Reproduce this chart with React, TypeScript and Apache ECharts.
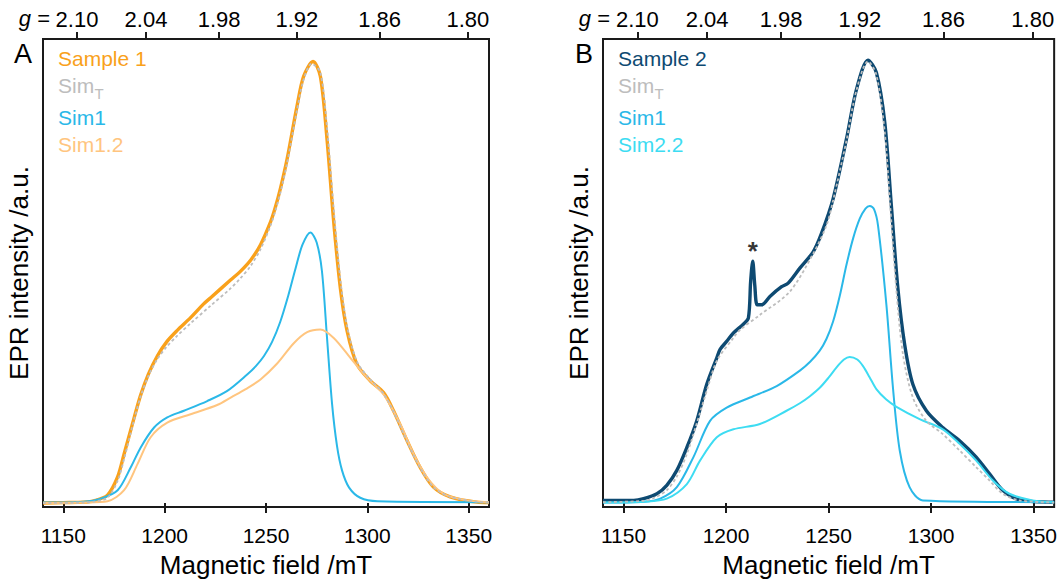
import React, { useEffect, useRef } from "react";
import * as echarts from "echarts";

// Microwave frequency (Q-band) used for the g-value axis: B[mT] = 71.4477 * nu[GHz] / g
const MW_FREQ_GHZ = 34.0;
const G_FIELD_CONST = 71.4477 * MW_FREQ_GHZ;

const fieldTicks = [1150, 1200, 1250, 1300, 1350];
const gTicks = [2.1, 2.04, 1.98, 1.92, 1.86, 1.8];

// Panel A
const sample1 = [[1140,0],[1150,0.001],[1160,0.002],[1165,0.005],[1171.8,0.018],[1176.8,0.059],[1180,0.111],[1185,0.194],[1188.2,0.245],[1192,0.292],[1196.4,0.333],[1201,0.365],[1206,0.39],[1212.8,0.42],[1219,0.45],[1222.7,0.465],[1232.5,0.505],[1237,0.523],[1242.4,0.55],[1247.3,0.585],[1252.2,0.636],[1254.5,0.668],[1257.1,0.712],[1260.4,0.779],[1265.3,0.899],[1268.6,0.967],[1273.2,1.0],[1276.8,0.967],[1280.1,0.824],[1283.4,0.637],[1286.7,0.486],[1290,0.39],[1294.9,0.314],[1301.4,0.277],[1308,0.25],[1312.9,0.209],[1319.5,0.142],[1326,0.081],[1332.6,0.036],[1340.8,0.014],[1353.9,0.002],[1360,0.001]];
const simT1 = [[1140,0],[1160,0.001],[1165,0.003],[1171.8,0.012],[1176.8,0.05],[1180,0.1],[1185,0.19],[1188.2,0.242],[1192,0.288],[1196.4,0.326],[1201,0.354],[1206,0.378],[1212.8,0.407],[1222.7,0.447],[1232.5,0.486],[1237,0.507],[1242.4,0.537],[1247.3,0.575],[1252.2,0.628],[1254.5,0.66],[1257.1,0.703],[1260.4,0.77],[1265.3,0.89],[1268.6,0.96],[1272.5,0.995],[1276.8,0.975],[1280.1,0.85],[1283.4,0.665],[1286.7,0.505],[1290,0.4],[1294.9,0.32],[1301.4,0.28],[1308,0.248],[1312.9,0.207],[1319.5,0.14],[1326,0.08],[1332.6,0.036],[1340.8,0.014],[1353.9,0.003],[1360,0.001]];
const sim1A = [[1140,0.001],[1160,0.003],[1168.5,0.01],[1176.8,0.029],[1183.3,0.081],[1188.2,0.126],[1194.8,0.171],[1201.3,0.194],[1209.5,0.209],[1221,0.231],[1230.9,0.254],[1240.7,0.291],[1245,0.31],[1249,0.333],[1253,0.365],[1257,0.41],[1261,0.47],[1264.5,0.53],[1268,0.585],[1271.9,0.613],[1275,0.59],[1277.6,0.525],[1280.1,0.374],[1282.6,0.224],[1285,0.13],[1287.5,0.074],[1291,0.035],[1296.5,0.012],[1305,0.004],[1360,0.002]];
const sim12 = [[1140,0],[1160,0.001],[1171.8,0.004],[1180,0.029],[1186.6,0.088],[1193.1,0.149],[1201.3,0.182],[1212.8,0.201],[1225.9,0.222],[1233,0.24],[1240,0.258],[1247.3,0.28],[1255.5,0.316],[1263.7,0.362],[1270.3,0.387],[1276.8,0.393],[1283.4,0.374],[1291.6,0.329],[1299.8,0.284],[1308,0.246],[1316.2,0.179],[1322.8,0.111],[1329.3,0.059],[1337.5,0.021],[1349,0.006],[1360,0.002]];

// Panel B
const sample2 = [[1140,0.006],[1155,0.006],[1159.8,0.01],[1166.3,0.021],[1171.1,0.04],[1176,0.074],[1180.9,0.126],[1185.7,0.186],[1190.6,0.269],[1195.5,0.329],[1197.1,0.348],[1200.3,0.366],[1203.6,0.385],[1208.4,0.405],[1210.9,0.419],[1212,0.502],[1213,0.548],[1214,0.494],[1215.2,0.449],[1217.4,0.449],[1221.4,0.468],[1227.1,0.49],[1230.3,0.498],[1236,0.532],[1242.5,0.569],[1246.5,0.61],[1252.2,0.689],[1258.7,0.824],[1263.6,0.937],[1269.2,1.003],[1273.3,0.975],[1277.4,0.862],[1280.6,0.674],[1283.8,0.486],[1287.1,0.359],[1291.1,0.269],[1297.7,0.209],[1305.7,0.171],[1313.9,0.141],[1322,0.104],[1328.5,0.066],[1334.9,0.029],[1343.1,0.007],[1360,0.002]];
const simT2 = [[1140,0.002],[1160,0.005],[1165,0.012],[1171.1,0.029],[1176,0.06],[1180.9,0.111],[1185.7,0.18],[1190.6,0.254],[1195.5,0.322],[1203.6,0.374],[1206.8,0.392],[1216.5,0.426],[1231.1,0.479],[1242.5,0.565],[1249,0.629],[1252.2,0.685],[1258.7,0.82],[1263.6,0.935],[1269.2,1.0],[1273.3,0.97],[1277.4,0.84],[1279.8,0.689],[1283.1,0.48],[1286.3,0.336],[1291.1,0.239],[1297.7,0.186],[1305.7,0.156],[1313.9,0.119],[1322,0.081],[1328.5,0.051],[1334.9,0.021],[1343.1,0.006],[1360,0.001]];
const sim1B = [[1140,0.001],[1160,0.003],[1167.9,0.01],[1176,0.036],[1184.1,0.104],[1192.2,0.186],[1200.3,0.216],[1211.7,0.239],[1224.7,0.265],[1236,0.3],[1241,0.32],[1245.7,0.345],[1249,0.372],[1252.2,0.411],[1255.5,0.47],[1258.7,0.539],[1262,0.6],[1265.2,0.644],[1268,0.667],[1270.1,0.673],[1272.2,0.665],[1274.1,0.629],[1278.2,0.449],[1281.4,0.261],[1284.7,0.119],[1289.5,0.036],[1296,0.006],[1360,0.002]];
const sim22 = [[1140,0.001],[1160,0.003],[1171.1,0.01],[1180.9,0.043],[1187.3,0.096],[1195.5,0.149],[1203.6,0.167],[1216.5,0.179],[1229.5,0.209],[1236,0.226],[1240.9,0.242],[1245.7,0.261],[1250,0.284],[1254,0.308],[1257.5,0.325],[1260.3,0.331],[1264,0.325],[1266.8,0.31],[1270,0.285],[1273.3,0.258],[1278,0.235],[1283.1,0.218],[1294.4,0.19],[1305.7,0.167],[1313.9,0.134],[1322,0.096],[1330.1,0.051],[1338.2,0.021],[1349.5,0.006],[1360,0.002]];
const asterisk = [[1213, 0.57]];

const legendA = ["Sample 1", "Sim", "Sim1", "Sim1.2"];
const legendB = ["Sample 2", "Sim", "Sim1", "Sim2.2"];

const C_S1 = "#F9A11B";
const C_S2 = "#0E4A72";
const C_T = "#BDBDBD";
const C_SIM1 = "#2AB8E8";
const C_SIM12 = "#FFC57F";
const C_SIM22 = "#3DDCF2";
const FONT = "'Liberation Sans', Arial, sans-serif";
const AXIS_C = "#1a1a1a";

export default function App() {
  const ref = useRef<HTMLDivElement>(null);
  useEffect(() => {
    if (!ref.current) return;
    const chart = echarts.init(ref.current, null, { renderer: "svg" });
    const gFields = gTicks.map((g) => G_FIELD_CONST / g);
    const grids = [
      { left: 43, top: 39, width: 446, height: 471 },
      { left: 603, top: 39, width: 454, height: 471 },
    ];
    const xAxes: any[] = [];
    const yAxes: any[] = [];
    grids.forEach((_, i) => {
      xAxes.push({
        type: "value", gridIndex: i, min: 1140, max: 1360, position: "bottom",
        axisLine: { show: false },
        axisTick: { show: true, customValues: fieldTicks, length: 10, lineStyle: { color: AXIS_C, width: 2 } },
        axisLabel: { customValues: fieldTicks, fontSize: 21, color: "#000", margin: 18, fontFamily: FONT, formatter: (v: number) => String(Math.round(v)) },
        splitLine: { show: false },
        name: "Magnetic field /mT", nameLocation: "middle", nameGap: 45,
        nameTextStyle: { fontSize: 26, color: "#000", fontFamily: FONT },
      });
      xAxes.push({
        type: "value", gridIndex: i, min: 1140, max: 1360, position: "top",
        axisLine: { show: false },
        axisTick: { show: true, customValues: gFields, length: 7, lineStyle: { color: AXIS_C, width: 2 } },
        axisLabel: {
          customValues: gFields, fontSize: 22, color: "#000", margin: 9, fontFamily: FONT,
          formatter: (v: number) => (G_FIELD_CONST / v).toFixed(2),
        },
        splitLine: { show: false },
      });
      yAxes.push({
        type: "value", gridIndex: i, min: -0.009, max: 1.051,
        axisLine: { show: false }, axisTick: { show: false }, axisLabel: { show: false },
        splitLine: { show: false },
        name: "EPR intensity /a.u.", nameLocation: "middle", nameGap: 11,
        nameTextStyle: { fontSize: 26, color: "#000", fontFamily: FONT },
      });
    });
    const line = (data: number[][], xi: number, yi: number, color: string, width: number, dashed = false) => ({
      type: "line", xAxisIndex: xi, yAxisIndex: yi, data, showSymbol: false, symbol: "none",
      smooth: 0.3,
      lineStyle: { color, width, type: dashed ? [3, 2.5] : "solid", join: "round" },
      z: dashed ? 4 : 3,
    });
    const series: any[] = [
      line(sample1, 0, 0, C_S1, 3.4),
      line(sim1A, 0, 0, C_SIM1, 2),
      line(sim12, 0, 0, C_SIM12, 2),
      line(simT1, 0, 0, C_T, 1.8, true),
      line(sample2, 2, 1, C_S2, 3.4),
      line(sim1B, 2, 1, C_SIM1, 2),
      line(sim22, 2, 1, C_SIM22, 2),
      line(simT2, 2, 1, C_T, 1.8, true),
      {
        type: "scatter", xAxisIndex: 2, yAxisIndex: 1, data: asterisk, symbolSize: 1,
        itemStyle: { color: "rgba(0,0,0,0)" },
        label: { show: true, formatter: "*", position: "inside", fontSize: 26, fontWeight: "bold", color: "#000", fontFamily: FONT },
      },
    ];
    const legendRows = [58.3, 85.5, 117, 144.7];
    const legendGraphic = (x: number, labels: string[], colors: string[]) => {
      const els: any[] = labels.map((t, k) => ({
        type: "text", x, y: legendRows[k],
        style: { text: t, fill: colors[k], fontSize: 21, fontFamily: FONT, verticalAlign: "middle", align: "left" },
      }));
      els.push({
        type: "text", x: x + 36.5, y: 93,
        style: { text: "T", fill: colors[1], fontSize: 15, fontFamily: FONT, verticalAlign: "middle", align: "left" },
      });
      return els;
    };
    const gLabel = (x: number) => ({
      type: "text", x, y: 18,
      style: {
        text: "{i|g} =", align: "right", verticalAlign: "middle", fill: "#000", fontSize: 22, fontFamily: FONT,
        rich: { i: { fontStyle: "italic", fontSize: 22, fontFamily: FONT, fill: "#000" } },
      },
    });
    chart.setOption({
      animation: false,
      backgroundColor: "#fff",
      grid: grids.map((g) => ({ ...g, show: true, borderColor: AXIS_C, borderWidth: 2, backgroundColor: "transparent", containLabel: false })),
      xAxis: xAxes,
      yAxis: yAxes,
      series,
      graphic: [
        ...legendGraphic(58, legendA, [C_S1, C_T, C_SIM1, C_SIM12]),
        ...legendGraphic(618, legendB, [C_S2, C_T, C_SIM1, C_SIM22]),
        gLabel(50),
        gLabel(610),
        { type: "text", x: 14, y: 54, style: { text: "A", fill: "#000", fontSize: 27, fontFamily: FONT, verticalAlign: "middle" } },
        { type: "text", x: 575, y: 54, style: { text: "B", fill: "#000", fontSize: 27, fontFamily: FONT, verticalAlign: "middle" } },
      ],
    });
    return () => chart.dispose();
  }, []);
  return <div ref={ref} style={{ position: "fixed", left: 0, top: 0, width: 1060, height: 583 }} />;
}
